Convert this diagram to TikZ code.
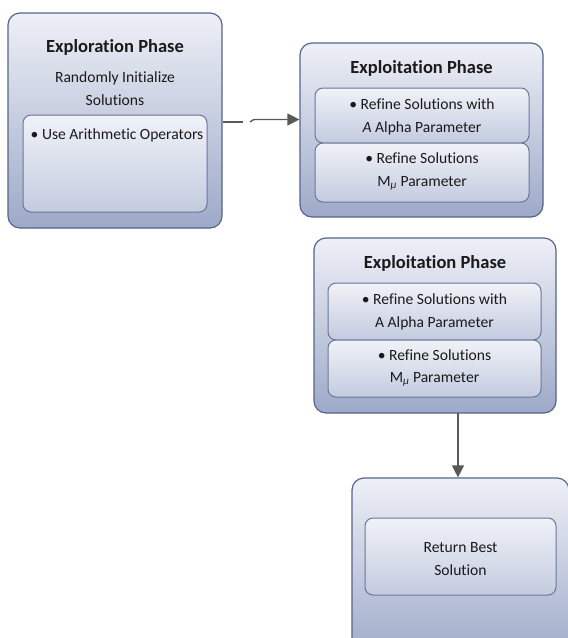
\documentclass[tikz,border=0pt]{standalone}
\usepackage{fontspec}
\setmainfont[Ligatures=NoCommon]{Carlito}
\usetikzlibrary{arrows.meta}
\definecolor{outtop}{HTML}{EEF0F7}
\definecolor{outbot}{HTML}{9DA9C8}
\definecolor{outline}{HTML}{56658A}
\definecolor{intop}{HTML}{F0F2F8}
\definecolor{inbot}{HTML}{C3CBDF}
\definecolor{inline}{HTML}{6A7798}
\definecolor{arr}{HTML}{595959}
\definecolor{ink}{HTML}{1A1A1A}
\tikzset{
  outer/.style={draw=outline, line width=1.2pt, rounded corners=12pt, top color=outtop, bottom color=outbot, inner sep=0pt},
  inner/.style={draw=inline, line width=1pt, rounded corners=8pt, top color=intop, bottom color=inbot, inner sep=0pt},
  ttl/.style={font=\fontsize{18.5}{22}\selectfont\bfseries, text=ink, inner sep=0pt},
  txt/.style={font=\fontsize{15.6}{22.5}\selectfont, text=ink, align=center, inner sep=0pt},
  conn/.style={draw=arr, line width=1.3pt, -{Triangle[length=12pt,width=12pt]}}
}
\begin{document}
\begin{tikzpicture}[x=1pt,y=-1pt]
\useasboundingbox (0,0) rectangle (568,638);
\fill[white] (0,0) rectangle (568,638);
\begin{scope}
\clip (0,0) rectangle (568,638);
% Box 1
\node[outer, minimum width=214pt, minimum height=215pt] (b1) at (115,120.5) {};
\node[inner, minimum width=184pt, minimum height=97pt] (b1i) at (115,163.5) {};
\node[ttl] (b1t) at (115,47) {Exploration Phase};
\node[txt] (b1s) at (115,88.5) {Randomly Initialize\\Solutions};
\node[txt] (b1a) at (117,135) {\textbullet\ Use Arithmetic Operators};
% Box 2
\node[outer, minimum width=243pt, minimum height=174pt] (b2) at (421.5,130) {};
\node[inner, minimum width=214pt, minimum height=55pt] (b2a) at (422,115.5) {};
\node[inner, minimum width=214pt, minimum height=59pt] (b2b) at (422,172.5) {};
\node[ttl] (b2t) at (421.5,68) {Exploitation Phase};
\node[txt] (b2at) at (422,117) {\textbullet\ Refine Solutions with\\\textit{A} Alpha Parameter};
\node[txt] (b2bt) at (422,171.5) {\textbullet\ Refine Solutions\\M\textsubscript{\itshape μ} Parameter};
% Box 3
\node[outer, minimum width=242pt, minimum height=175pt] (b3) at (435,325.5) {};
\node[inner, minimum width=213pt, minimum height=57pt] (b3a) at (434.5,311.5) {};
\node[inner, minimum width=213pt, minimum height=57pt] (b3b) at (434.5,368.5) {};
\node[ttl] (b3t) at (435,263) {Exploitation Phase};
\node[txt] (b3at) at (434.5,312) {\textbullet\ Refine Solutions with\\A Alpha Parameter};
\node[txt] (b3bt) at (434.5,368) {\textbullet\ Refine Solutions\\M\textsubscript{\itshape μ} Parameter};
% Box 4
\node[outer, minimum width=217pt, minimum height=182pt] (b4) at (460.5,569) {};
\node[inner, minimum width=191pt, minimum height=77pt] (b4i) at (460.5,556.5) {};
\node[txt] (b4t) at (460.5,559) {Return Best\\Solution};
\end{scope}
% connectors
\coordinate (g1) at (243,122);
\coordinate (g2) at (250,122);
\draw[draw=arr, line width=1.3pt] (b1.east |- g1) -- (g1);
\draw[conn] (g2) .. controls (252,119.5) and (254,119.5) .. (258,119.5) -- (b2.west |- 0,119.5);
\draw[conn] (458,413) -- (b4.north -| 458,0);
\end{tikzpicture}
\end{document}
